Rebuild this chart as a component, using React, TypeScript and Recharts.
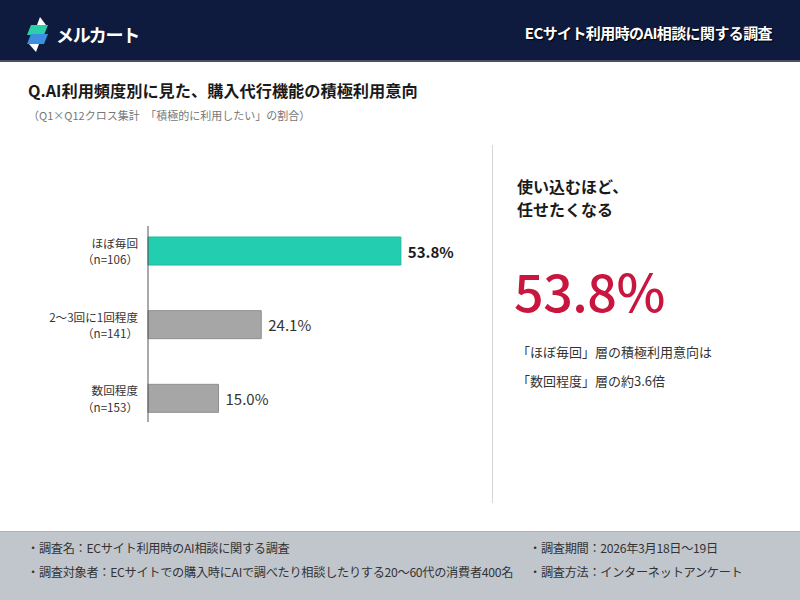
import React from "react";
import { BarChart, Bar, XAxis, YAxis, Cell, LabelList } from "recharts";

const categories = ["ほぼ毎回", "2〜3回に1回程度", "数回程度"];
const sampleSizes = ["（n=106）", "（n=141）", "（n=153）"];
const values = [53.8, 24.1, 15.0];
const barFills = ["#22cdb0", "#a6a6a6", "#a6a6a6"];
const barStrokes = ["#1fb89d", "#8f8f8f", "#8f8f8f"];

const data = categories.map((c, i) => ({ name: c, n: sampleSizes[i], value: values[i] }));

const FONT = '"Noto Sans CJK JP", "Noto Sans", sans-serif';

const Tick = (props: any) => {
  const { x, y, payload, index } = props;
  return (
    <g>
      <text x={x - 2} y={y - 8} textAnchor="end" dominantBaseline="central" fontSize={11.6} fill="#333" fontFamily={FONT}>
        {payload.value}
      </text>
      <text x={x - 2} y={y + 8.5} textAnchor="end" dominantBaseline="central" fontSize={11.6} fill="#333" fontFamily={FONT}>
        {sampleSizes[index]}
      </text>
    </g>
  );
};

const ValueLabel = (props: any) => {
  const { x, y, width, height, value, index } = props;
  return (
    <text
      x={x + width + 7}
      y={y + height / 2}
      dominantBaseline="central"
      fontSize={15}
      fontWeight={index === 0 ? 700 : 400}
      fill={index === 0 ? "#1a1a1a" : "#333"}
      fontFamily={FONT}
    >
      {value.toFixed(1)}%
    </text>
  );
};

const Logo = () => (
  <svg width={26} height={38} viewBox="0 0 26 38" style={{ position: "absolute", left: 25, top: 15 }}>
    <polygon points="15,2 21,10 12,10" fill="#ffffff" />
    <polygon points="6,10 23,10 19,20 2,20" fill="#2ad1a8" />
    <polygon points="6,19 23,19 19,29 2,29" fill="#3c8fe0" />
    <polygon points="4,29 14,29 11,37" fill="#ffffff" />
  </svg>
);

const footStyle: React.CSSProperties = {
  position: "absolute",
  lineHeight: "16px",
  fontSize: 12.2,
  color: "#333",
  letterSpacing: -0.3,
  whiteSpace: "nowrap",
};

export default function App() {
  return (
    <div style={{ position: "absolute", left: 0, top: 0, width: 800, height: 600, background: "#fff", fontFamily: FONT, overflow: "hidden" }}>
      {/* Header */}
      <div style={{ position: "absolute", left: 0, top: 0, width: 800, height: 60, background: "#0e1a3e" }} />
      <div style={{ position: "absolute", left: 0, top: 60, width: 800, height: 2, background: "#4a4f63" }} />
      <Logo />
      <div style={{ position: "absolute", left: 56, top: 22, lineHeight: "24px", fontSize: 18, fontWeight: 700, color: "#fff", letterSpacing: -1.3 }}>
        メルカート
      </div>
      <div style={{ position: "absolute", right: 28, top: 22, lineHeight: "22px", fontSize: 15, fontWeight: 700, color: "#fff", letterSpacing: -0.6, textShadow: "1px 1px 1px #000" }}>
        ECサイト利用時のAI相談に関する調査
      </div>

      {/* Title */}
      <div style={{ position: "absolute", left: 28, top: 78, lineHeight: "24px", fontSize: 16.2, fontWeight: 700, color: "#1a1a1a" }}>
        Q.AI利用頻度別に見た、購入代行機能の積極利用意向
      </div>
      <div style={{ position: "absolute", left: 28, top: 107, lineHeight: "16px", fontSize: 11, color: "#777", whiteSpace: "pre" }}>
        {"（Q1×Q12クロス集計　「積極的に利用したい」の割合）"}
      </div>

      {/* Chart */}
      <div style={{ position: "absolute", left: 0, top: 180 }}>
        <BarChart width={480} height={260} data={data} layout="vertical" margin={{ top: 46, bottom: 18, left: 0, right: 50 }}>
          <XAxis type="number" domain={[0, 60]} hide />
          <YAxis
            type="category"
            dataKey="name"
            width={148}
            axisLine={{ stroke: "#555", strokeWidth: 1 }}
            tickLine={false}
            tick={<Tick />}
            interval={0}
            padding={{ top: -12, bottom: -13 }}
          />
          <Bar dataKey="value" barSize={28} isAnimationActive={false} strokeWidth={1}>
            {data.map((d, i) => (
              <Cell key={d.name} fill={barFills[i]} stroke={barStrokes[i]} />
            ))}
            <LabelList dataKey="value" content={<ValueLabel />} />
          </Bar>
        </BarChart>
      </div>

      {/* Divider */}
      <div style={{ position: "absolute", left: 492, top: 145, width: 1, height: 358, background: "#d5d5d5" }} />

      {/* Right panel */}
      <div style={{ position: "absolute", left: 517, top: 175, lineHeight: "23px", fontSize: 16, fontWeight: 700, color: "#1a1a1a" }}>
        使い込むほど、
        <br />
        任せたくなる
      </div>
      <div style={{ position: "absolute", left: 514, top: 257, lineHeight: "66px", fontSize: 52, fontWeight: 500, color: "#c8163e", letterSpacing: -0.5 }}>
        53.8%
      </div>
      <div style={{ position: "absolute", left: 517, top: 342, lineHeight: "20px", fontSize: 13, color: "#333" }}>
        「ほぼ毎回」層の積極利用意向は
      </div>
      <div style={{ position: "absolute", left: 517, top: 371, lineHeight: "20px", fontSize: 13, color: "#333" }}>
        「数回程度」層の約3.6倍
      </div>

      {/* Footer */}
      <div style={{ position: "absolute", left: 0, top: 531, width: 800, height: 1, background: "#aeb4bb" }} />
      <div style={{ position: "absolute", left: 0, top: 532, width: 800, height: 68, background: "#c1c6cd" }} />
      <div style={{ ...footStyle, left: 27, top: 540 }}>・調査名：ECサイト利用時のAI相談に関する調査</div>
      <div style={{ ...footStyle, left: 27, top: 564 }}>・調査対象者：ECサイトでの購入時にAIで調べたり相談したりする20〜60代の消費者400名</div>
      <div style={{ ...footStyle, left: 529, top: 540 }}>・調査期間：2026年3月18日〜19日</div>
      <div style={{ ...footStyle, left: 529, top: 564 }}>・調査方法：インターネットアンケート</div>
    </div>
  );
}
